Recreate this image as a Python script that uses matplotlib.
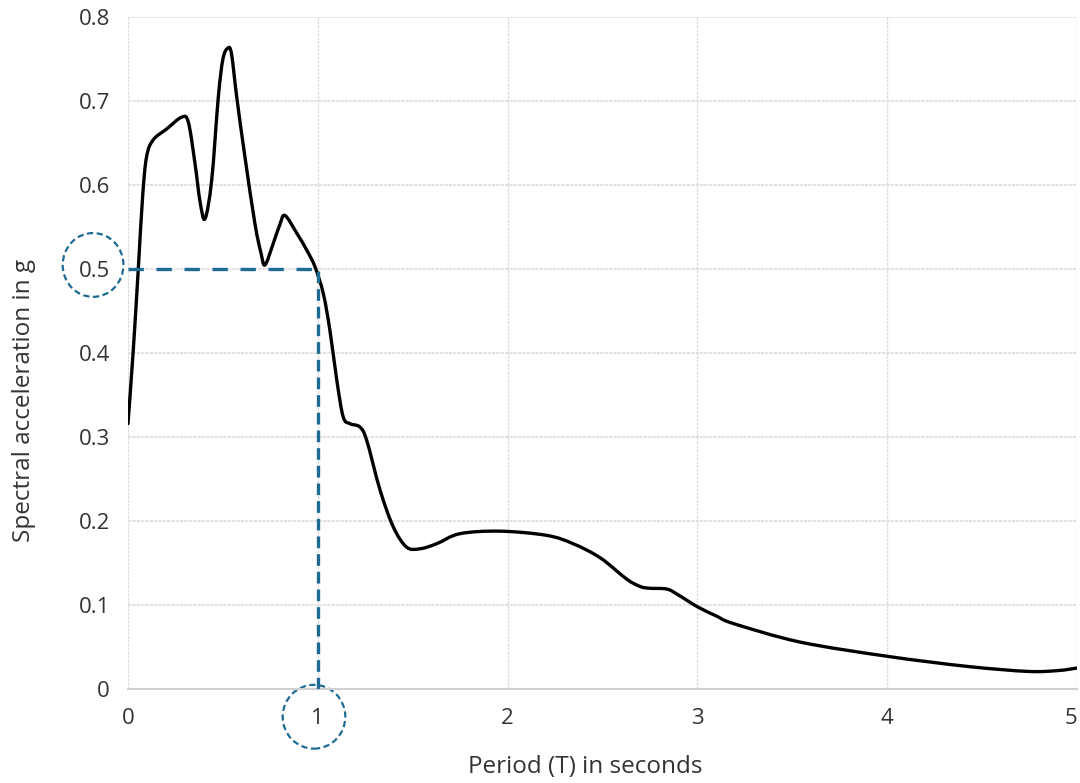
import matplotlib.pyplot as plt
from matplotlib.patches import Ellipse, PathPatch
from matplotlib.path import Path
import numpy as np

plt.rcParams['font.family'] = ['Open Sans', 'DejaVu Sans']

# spectrum values
period = [0.0, 0.028, 0.054, 0.077, 0.098, 0.133, 0.204, 0.283, 0.318, 0.353, 0.38, 0.406,
          0.441, 0.476, 0.50, 0.525, 0.545, 0.573, 0.616, 0.669, 0.70, 0.722, 0.766, 0.80,
          0.827, 0.889, 0.941, 0.985, 1.029, 1.064, 1.10, 1.134, 1.17, 1.222, 1.258, 1.328,
          1.398, 1.468, 1.538, 1.626, 1.749, 1.96, 2.206, 2.346, 2.49, 2.627, 2.70, 2.75,
          2.84, 2.9, 3.0, 3.1, 3.19, 3.54, 4.0, 4.42, 4.74, 4.9, 5.0]
sa = [0.316, 0.404, 0.499, 0.586, 0.634, 0.654, 0.667, 0.681, 0.675, 0.626, 0.58, 0.560,
      0.606, 0.705, 0.75, 0.763, 0.757, 0.705, 0.634, 0.554, 0.52, 0.505, 0.531, 0.553,
      0.564, 0.543, 0.523, 0.503, 0.471, 0.427, 0.368, 0.324, 0.316, 0.312, 0.296, 0.237,
      0.193, 0.169, 0.167, 0.173, 0.185, 0.188, 0.183, 0.173, 0.156, 0.131, 0.122, 0.120,
      0.119, 0.112, 0.098, 0.087, 0.078, 0.056, 0.039, 0.027, 0.021, 0.022, 0.025]

x_ticks = [0, 1, 2, 3, 4, 5]
y_ticks = [0, 0.1, 0.2, 0.3, 0.4, 0.5, 0.6, 0.7, 0.8]
y_labels = ['0', '0.1', '0.2', '0.3', '0.4', '0.5', '0.6', '0.7', '0.8']
mark_t = 1.0
mark_sa = 0.5

blue = '#1d6a93'
txt = '#333333'


def smooth_path(xs, ys):
    # excel-like smoothed line: catmull-rom segments as cubic beziers
    p = np.column_stack([xs, ys])
    q = np.vstack([p[0], p, p[-1]])
    verts = [p[0]]
    codes = [Path.MOVETO]
    for i in range(len(p) - 1):
        p0, p1, p2, p3 = q[i], q[i + 1], q[i + 2], q[i + 3]
        verts += [p1 + (p2 - p0) / 6, p2 - (p3 - p1) / 6, p2]
        codes += [Path.CURVE4] * 3
    return Path(verts, codes)


fig = plt.figure(figsize=(10.8, 7.83), dpi=100)
ax = fig.add_axes([0.1185, 0.12, 0.8787, 0.858])

ax.add_patch(PathPatch(smooth_path(period, sa), fill=False, ec='black', lw=2.4,
                       joinstyle='round', capstyle='round', zorder=3))

ax.plot([0, mark_t], [mark_sa, mark_sa], color=blue, lw=2.4, ls=(0, (4.6, 3.8)), zorder=4)
ax.plot([mark_t, mark_t], [0, mark_sa], color=blue, lw=2.4, ls=(0, (3.5, 1.8)), zorder=4)

ax.set_xlim(0, 5)
ax.set_ylim(0, 0.8)
ax.set_xticks(x_ticks)
ax.set_xticklabels([str(t) for t in x_ticks])
ax.set_yticks(y_ticks)
ax.set_yticklabels(y_labels)
ax.tick_params(length=0, labelsize=16, colors=txt)
ax.tick_params(axis='y', pad=13)
ax.tick_params(axis='x', pad=14)
ax.get_xticklabels()[-1].set_horizontalalignment('right')

ax.grid(axis='y', color='#dcdcdc', lw=1.2, ls=(0, (2, 0.6)))
ax.grid(axis='x', color='#dcdcdc', lw=1.0, ls=(0, (2, 0.8)))
for s in ['top', 'right', 'left']:
    ax.spines[s].set_visible(False)
ax.spines['bottom'].set_color('#d0d0d0')
ax.spines['bottom'].set_linewidth(1.5)
ax.set_axisbelow(True)

ax.set_xlabel('Period (T) in seconds', fontsize=17.5, color=txt)
ax.xaxis.set_label_coords(0.4816, -0.098)
ax.set_ylabel('Spectral acceleration in g', fontsize=17.5, color=txt)
ax.yaxis.set_label_coords(-0.097, 0.43)

# dashed circles around the marked tick labels
ax.add_patch(Ellipse((-0.184, 0.505), 0.32, 0.076, fill=False, ec=blue, lw=1.6,
                     ls=(0, (2.8, 1.6)), clip_on=False))
ax.add_patch(Ellipse((0.98, -0.033), 0.33, 0.076, fill=False, ec=blue, lw=1.6,
                     ls=(0, (2.8, 1.6)), clip_on=False))

fig.savefig('out.png', dpi=100)
